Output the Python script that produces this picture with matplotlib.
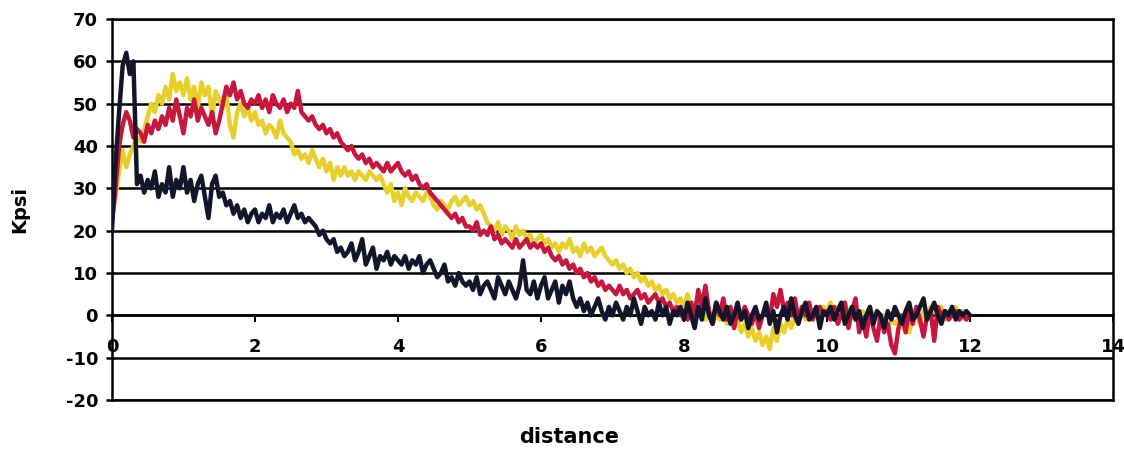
import matplotlib.pyplot as plt
import numpy as np

# readings every 0.05 distance units, from 0 to 12 (one row per unit)
black = [
    20, 36, 48, 59, 62, 57, 60, 31, 33, 29, 32, 30, 34, 28, 31, 29, 35, 28, 32, 30,
    35, 29, 32, 27, 31, 33, 28, 23, 31, 33, 28, 29, 26, 27, 24, 26, 23, 25, 22, 24,
    25, 22, 24, 23, 26, 22, 24, 23, 25, 22, 24, 26, 23, 24, 22, 23, 22, 21, 19, 20,
    18, 17, 18, 15, 16, 14, 15, 17, 13, 15, 18, 12, 14, 16, 11, 14, 13, 15, 12, 14,
    13, 12, 14, 11, 13, 12, 14, 10, 12, 13, 11, 9, 10, 12, 8, 9, 7, 10, 8, 7,
    8, 6, 9, 5, 7, 8, 6, 4, 9, 7, 5, 8, 6, 4, 7, 13, 6, 5, 8, 4,
    7, 9, 4, 6, 8, 3, 7, 5, 8, 4, 2, 4, 1, 3, 0, 2, 4, 1, -1, 2,
    0, 3, 1, -1, 2, 0, 4, 1, -2, 2, 0, 1, -1, 3, 0, 2, -2, 1, 0, 2,
    -1, 3, 0, -3, 2, -1, 4, 0, -2, 3, 1, -1, 2, -2, 0, 3, -1, 1, -3, 0,
    2, -1, 0, 3, -2, 1, -4, 0, 2, -1, 4, 0, -2, 1, 3, -1, 0, 2, -3, 1,
    0, 2, -1, 1, 3, -2, 0, 2, -1, 1, -3, 0, 2, -2, 1, 0, -3, 1, -1, 2,
    0, -2, 1, 3, -1, 0, 2, 4, -1, 1, 3, 0, -2, 1, 0, 2, -1, 1, 0, 1,
    0,
]
red = [
    22, 30, 40, 45, 48, 46, 42, 44, 43, 41, 45, 43, 46, 44, 47, 45, 49, 46, 51, 47,
    43, 49, 47, 51, 46, 49, 47, 45, 48, 43, 46, 50, 54, 52, 55, 51, 53, 50, 49, 51,
    50, 52, 49, 51, 48, 52, 50, 49, 51, 48, 50, 49, 53, 48, 47, 46, 47, 45, 44, 45,
    43, 44, 42, 43, 41, 40, 39, 40, 38, 37, 38, 36, 37, 35, 36, 35, 34, 36, 34, 35,
    36, 34, 33, 34, 32, 33, 31, 30, 31, 29, 28, 27, 26, 25, 24, 23, 24, 22, 23, 21,
    21, 20, 22, 19, 20, 19, 21, 18, 19, 17, 18, 17, 16, 18, 16, 17, 18, 16, 17, 16,
    17, 15, 16, 14, 13, 14, 12, 13, 11, 12, 10, 11, 9, 10, 8, 9, 7, 8, 6, 7,
    6, 5, 7, 5, 6, 4, 5, 6, 4, 5, 3, 4, 5, 3, 4, 2, 3, 1, 2, 0,
    1, -1, 3, 0, 6, 2, 7, 1, -2, 3, 0, 4, -1, 2, -3, 1, -1, 2, 0, -2,
    1, -3, 0, 2, -1, 5, 2, 6, 1, 3, 0, 4, -1, 2, 0, 3, -1, 1, 2, 0,
    1, -1, 2, -2, 0, 3, -3, 1, 4, -4, -1, -5, 1, -3, -6, 0, -4, -2, -7, -9,
    -3, 0, -4, 1, -2, 2, -1, -5, 0, 1, -6, 2, 0, 1, -1, 0, 1, -1, 0, -1,
    0,
]
yellow = [
    23, 28, 34, 39, 35, 38, 40, 42, 41, 44, 47, 50, 48, 52, 50, 54, 51, 57, 53, 55,
    52, 56, 51, 54, 49, 55, 52, 54, 47, 53, 51, 49, 52, 45, 42, 48, 50, 47, 49, 46,
    48, 45, 46, 43, 45, 44, 42, 46, 43, 42, 41, 38, 39, 37, 38, 36, 39, 37, 35, 37,
    34, 36, 32, 35, 33, 35, 33, 34, 32, 34, 33, 32, 34, 33, 32, 33, 31, 29, 31, 27,
    29, 26, 30, 28, 27, 29, 28, 27, 29, 28, 26, 25, 27, 26, 25, 27, 28, 26, 27, 28,
    26, 27, 25, 26, 24, 22, 21, 20, 22, 19, 21, 20, 18, 21, 19, 20, 18, 19, 17, 18,
    19, 17, 18, 16, 17, 15, 17, 16, 18, 15, 16, 14, 17, 15, 16, 14, 15, 16, 14, 13,
    12, 13, 11, 12, 10, 11, 9, 10, 8, 9, 7, 8, 6, 7, 5, 6, 4, 5, 3, 4,
    2, 5, 1, 3, 0, 2, -1, 1, -2, 0, -1, 1, -2, 0, -3, -1, -4, -2, -5, -3,
    -6, -4, -7, -5, -8, -3, -6, -2, -4, -1, -3, 0, -2, 1, -1, 2, 0, 1, -1, 2,
    1, 3, 0, 2, 1, 3, 0, 2, 1, -1, 1, 0, 2, -1, 1, -2, 0, -3, -1, -2,
    -1, -3, -2, -4, -1, 0, -2, 1, 0, 2, 1, 0, 2, -1, 1, 0, 2, -1, 1, 0,
]
step = 0.05

plt.rcParams["axes.unicode_minus"] = False
plt.rcParams["font.family"] = "DejaVu Sans"
plt.rcParams["font.weight"] = "bold"
plt.rcParams["axes.labelweight"] = "bold"

fig = plt.figure(figsize=(11.24, 4.59), dpi=100)
ax = fig.add_axes([0.0996, 0.1285, 0.8906, 0.8301])

ax.plot(np.arange(len(yellow)) * step, yellow, color="#e8cf2c", lw=3.2, zorder=3)
ax.plot(np.arange(len(red)) * step, red, color="#c8173f", lw=3.2, zorder=4)
ax.plot(np.arange(len(black)) * step, black, color="#14152a", lw=3.2, zorder=5)

ax.set_xlim(0, 14)
ax.set_ylim(-20, 70)
ax.set_yticks(np.arange(-20, 71, 10))
ax.set_xticks(np.arange(0, 15, 2))
ax.grid(axis="y", color="black", lw=1.8)
ax.axhline(-20, color="black", lw=1.8, clip_on=False)
ax.set_axisbelow(True)

# x axis crosses at y=0, like the Excel chart
ax.spines["bottom"].set_position(("data", 0))
ax.spines["bottom"].set_linewidth(1.8)
for s in ["left", "right", "top"]:
    ax.spines[s].set_linewidth(1.8)
ax.tick_params(axis="y", length=4, width=1.8, pad=6, labelsize=13)
ax.tick_params(axis="x", length=5, width=1.5, pad=11, labelsize=13)

ax.set_ylabel("Kpsi", fontsize=14, fontweight="bold")
ax.yaxis.set_label_coords(-0.083, 0.5)
ax.set_xlabel("distance", fontsize=15, fontweight="bold")
ax.xaxis.set_label_coords(0.457, -0.072)

fig.savefig("out.png", dpi=100)
